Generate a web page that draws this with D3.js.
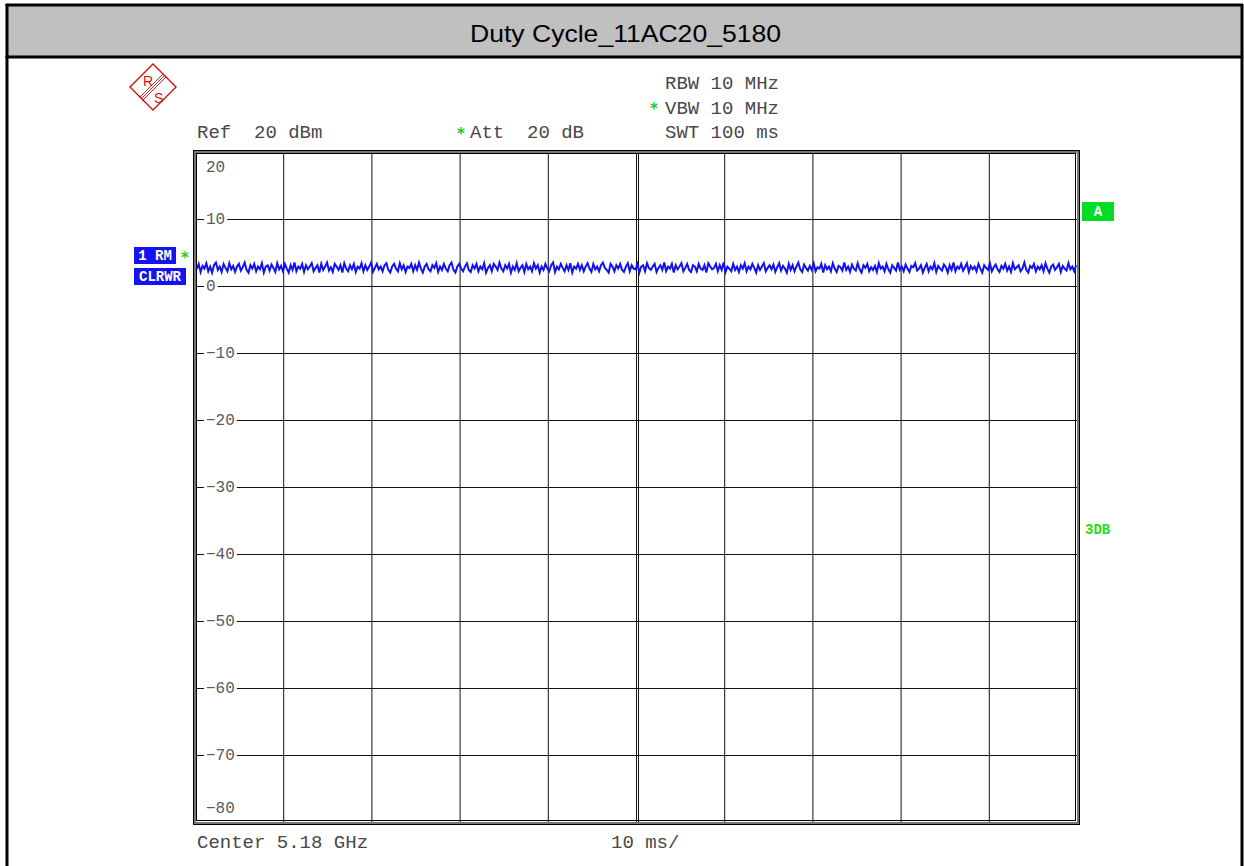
<!DOCTYPE html>
<html>
<head>
<meta charset="utf-8">
<script src="https://cdn.jsdelivr.net/npm/d3@7"></script>
<style>
  html, body { margin: 0; padding: 0; background: #fff; }
  svg { display: block; }
</style>
</head>
<body>
<svg id="chart" width="1244" height="866"></svg>
<script>
// Spectrum analyser zero-span trace: level (dBm) over sweep time (ms)
const title = "Duty Cycle_11AC20_5180";
const levelTicks = [20, 10, 0, -10, -20, -30, -40, -50, -60, -70, -80];
const timeTicks = [0, 10, 20, 30, 40, 50, 60, 70, 80, 90, 100];
const headerLeft = ["Ref  20 dBm", "Att  20 dB"];
const headerRight = ["RBW 10 MHz", "VBW 10 MHz", "SWT 100 ms"];
const footer = ["Center 5.18 GHz", "10 ms/"];

// trace 1 (RM detector, clear/write), dBm
const traceLevels = [
  2.5,3.3,2.1,3.0,2.6,3.4,2.2,2.9,2.0,3.1,3.5,2.4,2.9,2.1,3.3,2.7,2.2,3.4,2.5,3.0,
  2.1,2.9,3.3,2.3,2.8,3.5,2.4,2.0,3.1,2.6,3.3,2.2,2.9,2.5,3.4,2.0,2.9,3.1,2.3,3.2,
  2.7,2.1,3.4,2.5,3.0,2.2,3.3,2.6,2.0,3.1,2.4,3.5,2.2,2.9,2.6,3.3,2.1,3.1,2.5,2.9,
  3.4,2.2,2.7,3.1,2.0,3.3,2.4,2.9,3.5,2.3,2.8,2.1,3.3,2.9,2.4,3.1,2.0,3.4,2.6,2.2,
  3.1,2.5,3.3,2.1,2.9,2.6,3.4,2.2,3.1,2.4,2.9,3.5,2.1,2.7,3.3,2.5,2.9,2.2,3.1,3.4,
  2.4,2.0,2.9,3.3,2.6,2.2,3.4,2.5,3.1,2.1,2.9,2.7,3.3,2.2,3.1,2.4,3.5,2.6,2.0,2.9,
  3.3,2.5,2.2,3.1,2.7,3.4,2.1,2.9,2.4,3.3,2.6,2.2,3.1,3.5,2.4,2.0,2.9,3.3,2.6,2.2,
  2.9,3.4,2.4,2.1,3.1,2.6,3.3,2.2,2.9,2.5,3.4,2.0,2.7,3.1,2.2,3.3,2.9,2.4,3.5,2.6,
  2.2,3.1,2.6,3.3,2.0,2.9,2.4,3.4,2.2,2.7,3.1,2.1,3.3,2.5,2.9,2.2,3.4,2.6,3.1,2.0,
  2.9,2.4,3.3,2.6,2.2,3.1,3.5,2.1,2.9,2.5,3.3,2.7,2.2,3.1,2.4,3.4,2.0,2.9,2.6,3.3,
  2.4,3.1,2.2,2.9,3.4,2.6,2.1,3.3,2.5,2.9,2.2,3.1,3.5,2.7,2.4,2.0,3.3,2.9,2.2,3.1,
  2.6,3.3,2.4,2.1,2.9,3.4,2.2,3.1,2.6,2.5,3.3,2.0,2.9,3.1,2.2,3.4,2.7,2.4,2.9,3.3,
  2.1,2.7,3.1,2.4,3.5,2.2,2.9,2.6,3.3,2.0,3.1,2.5,2.9,3.4,2.2,2.7,3.3,2.4,2.1,3.1,
  2.9,2.2,3.3,2.6,2.4,3.1,2.0,3.4,2.9,2.5,2.7,3.3,2.2,3.1,2.4,3.5,2.1,2.9,2.6,2.2,
  3.3,2.4,2.9,2.1,3.1,2.6,3.4,2.2,2.9,2.5,3.3,2.7,2.0,3.1,2.4,2.9,3.4,2.2,2.7,3.1,
  2.5,3.2,2.1,2.8,3.4,2.3,3.0,2.6,2.0,3.3,2.4,3.1,2.2,2.9,3.5,2.5,2.1,3.2,2.7,2.3,
  3.0,2.4,3.4,2.2,2.8,2.6,3.3,2.0,3.1,2.5,2.9,2.2,3.4,2.6,2.1,3.0,2.8,2.3,3.5,2.4,
  2.9,2.1,3.2,2.6,2.3,3.4,2.5,2.0,3.1,2.7,3.3,2.2,2.8,2.4,3.0,2.1,3.4,2.6,2.9,2.2,
  3.3,2.5,2.0,3.1,2.7,2.3,3.5,2.4,2.9,2.2,3.2,2.6,2.1,3.0,2.8,3.4,2.3,2.6,3.1,2.0,
  2.7,3.3,2.2,2.9,2.5,3.4,2.1,3.0,2.6,2.3,3.2,2.8,2.0,3.1,2.4,3.5,2.2,2.9,2.6,3.3,
  2.3,2.8,3.4,2.1,3.0,2.5,2.9,2.2,3.3,2.6,2.0,3.1,2.7,2.4,3.4,2.2,2.8,3.2,2.5,2.1,
  3.0,2.6,3.3,2.3,2.9,2.1,3.4,2.5,2.8,3.1,2.2,2.6,3.5,2.4,2.0,3.0,2.7,3.3,2.2,2.9,
  2.5,3.1,2.2,3.4,2.6,2.0,2.9,3.2,2.4,2.8,3.3,2.1,3.0,2.6,2.3,3.4,2.5,2.9,2.2,3.1
];

const svg = d3.select("#chart");
const mono = "'Liberation Mono', 'Courier New', monospace";
const txtCol = "#484848";

// ---- page frame and title band ----
svg.append("rect").attr("x", 7).attr("y", 5).attr("width", 1235).attr("height", 52)
  .attr("fill", "#c0c0c0");
svg.append("line").attr("x1", 5.5).attr("x2", 1243).attr("y1", 5).attr("y2", 5)
  .attr("stroke", "#000").attr("stroke-width", 3);
svg.append("line").attr("x1", 5.5).attr("x2", 1243).attr("y1", 57).attr("y2", 57)
  .attr("stroke", "#000").attr("stroke-width", 3);
svg.append("line").attr("x1", 7).attr("x2", 7).attr("y1", 4).attr("y2", 866)
  .attr("stroke", "#000").attr("stroke-width", 3);
svg.append("line").attr("x1", 1242).attr("x2", 1242).attr("y1", 4).attr("y2", 866)
  .attr("stroke", "#000").attr("stroke-width", 3);
svg.append("text").attr("x", 470).attr("y", 42)
  .attr("font-family", "'Liberation Sans', Arial, sans-serif").attr("font-size", 24)
  .attr("textLength", 311).attr("lengthAdjust", "spacingAndGlyphs")
  .attr("fill", "#000").text(title);

// ---- R&S logo ----
const logo = svg.append("g").attr("transform", "translate(153,87)").attr("fill", "none")
  .attr("stroke", "#cc1111");
logo.append("path").attr("d", "M0,-23 L23,0 L0,23 L-23,0 Z").attr("stroke-width", 1.4);
[-1.5, 0, 1.5].forEach(o => {
  logo.append("line").attr("x1", -12 + o).attr("y1", 12 + o).attr("x2", 12 + o).attr("y2", -12 + o)
    .attr("stroke-width", 0.9);
});
logo.append("text").attr("x", -10).attr("y", -1).attr("fill", "#cc1111").attr("stroke", "none")
  .attr("font-family", "'Liberation Sans', Arial, sans-serif").attr("font-size", 14).text("R");
logo.append("text").attr("x", 1).attr("y", 16).attr("fill", "#cc1111").attr("stroke", "none")
  .attr("font-family", "'Liberation Sans', Arial, sans-serif").attr("font-size", 14).text("S");

// ---- scales ----
const plot = { left: 195, right: 1077, top: 152, bottom: 822 };
const x = d3.scaleLinear().domain([0, 100]).range([plot.left, plot.right]);
const y = d3.scaleLinear().domain([-80, 20]).range([plot.bottom, plot.top]);

// ---- header / footer text ----
function monoText(tx, ty, s, size, col, anchor) {
  return svg.append("text").attr("x", tx).attr("y", ty).attr("font-family", mono)
    .attr("font-size", size).attr("fill", col || txtCol).attr("text-anchor", anchor || "start")
    .attr("xml:space", "preserve").style("white-space", "pre").text(s);
}
function greenStar(tx, ty) {
  svg.append("text").attr("x", tx).attr("y", ty).attr("font-family", "'DejaVu Sans', sans-serif")
    .attr("font-weight", "bold").attr("font-size", 15).attr("fill", "#22cc22").text("*");
}
monoText(197, 138, headerLeft[0], 19);
monoText(470, 138, headerLeft[1], 19);
greenStar(457, 139);
headerRight.forEach((s, i) => monoText(665, 89 + i * 24.5, s, 19));
greenStar(650, 114);
monoText(197, 848, footer[0], 19);
monoText(611, 848, footer[1], 19);

// ---- grid ----
const grid = svg.append("g");
const gx = d3.axisBottom(x).tickValues(timeTicks.slice(1, -1)).tickSize(-(plot.bottom - plot.top))
  .tickFormat("");
grid.append("g").attr("transform", `translate(0,${plot.bottom})`).call(gx)
  .call(g => g.select(".domain").remove())
  .call(g => g.selectAll("line").attr("stroke", "#111").attr("stroke-width", 1));
// doubled centre line
grid.append("line").attr("x1", x(50) + 2.5).attr("x2", x(50) + 2.5)
  .attr("y1", plot.top).attr("y2", plot.bottom).attr("stroke", "#111");

const gy = d3.axisRight(y).tickValues(levelTicks.slice(1, -1)).tickSize(plot.right - plot.left)
  .tickFormat("");
grid.append("g").attr("transform", `translate(${plot.left},0)`).call(gy)
  .call(g => g.select(".domain").remove())
  .call(g => g.selectAll("line").attr("stroke", "#111").attr("stroke-width", 1));

// level labels, sitting on the horizontal grid lines
const fmt = v => (v < 0 ? "\u2212" + Math.abs(v) : String(v));
levelTicks.forEach(v => {
  let ty = y(v) + 5;
  if (v === 20) ty = y(v) + 20;
  if (v === -80) ty = y(v) - 9;
  const t = monoText(206, ty, fmt(v), 16, "#5a5a5a");
  if (v !== 20 && v !== -80) {
    const bb = t.node().getBBox();
    svg.insert("rect", () => t.node()).attr("x", bb.x - 2).attr("y", y(v) - 2)
      .attr("width", bb.width + 4).attr("height", 4).attr("fill", "#fff");
  }
});

// ---- plot frame ----
svg.append("rect").attr("x", 193.5).attr("y", 150.5).attr("width", 886).attr("height", 674)
  .attr("fill", "none").attr("stroke", "#000").attr("stroke-width", 1);
svg.append("rect").attr("x", 195).attr("y", 152).attr("width", 883).attr("height", 671)
  .attr("fill", "none").attr("stroke", "#777").attr("stroke-width", 2);
svg.append("rect").attr("x", 196.5).attr("y", 153.5).attr("width", 879).attr("height", 667)
  .attr("fill", "none").attr("stroke", "#000").attr("stroke-width", 1);

// ---- trace ----
const tx = d3.scaleLinear().domain([0, traceLevels.length - 1]).range([0.2, 99.9]);
const line = d3.line().x((d, i) => x(tx(i))).y(d => y(d));
svg.append("path").datum(traceLevels).attr("d", line).attr("fill", "none")
  .attr("stroke", "#1212ee").attr("stroke-width", 2).attr("stroke-linejoin", "miter");

// ---- trace / marker labels ----
function badge(bx, by, w, h, s, col) {
  svg.append("rect").attr("x", bx).attr("y", by).attr("width", w).attr("height", h).attr("fill", col);
  svg.append("text").attr("x", bx + w / 2).attr("y", by + h - 4).attr("text-anchor", "middle")
    .attr("font-family", mono).attr("font-weight", "bold").attr("font-size", 14).attr("fill", "#fff")
    .attr("xml:space", "preserve").style("white-space", "pre").text(s);
}
badge(134, 247, 42, 17, "1 RM", "#1414f0");
badge(134, 268, 52, 17, "CLRWR", "#1414f0");
greenStar(181, 263);
svg.append("rect").attr("x", 1082).attr("y", 202).attr("width", 32).attr("height", 19).attr("fill", "#00dd22");
svg.append("text").attr("x", 1098).attr("y", 216).attr("text-anchor", "middle").attr("font-family", mono)
  .attr("font-weight", "bold").attr("font-size", 14).attr("fill", "#fff").text("A");
svg.append("text").attr("x", 1085).attr("y", 534).attr("font-family", mono)
  .attr("font-weight", "bold").attr("font-size", 14).attr("fill", "#22dd22").text("3DB");
</script>
</body>
</html>
